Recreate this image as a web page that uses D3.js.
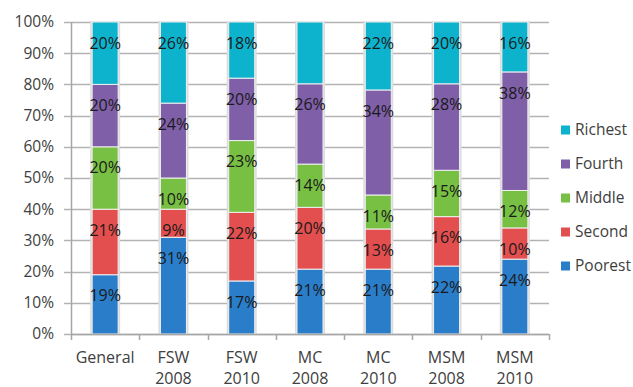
<!DOCTYPE html>
<html>
<head>
<meta charset="utf-8">
<script src="https://cdn.jsdelivr.net/npm/d3@7"></script>
<style>
  body { margin: 0; background: #fff; }
  text { font-family: "Open Sans", sans-serif; }
</style>
</head>
<body>
<svg width="633" height="387"></svg>
<script>
var categories = [
  ["General"],
  ["FSW", "2008"],
  ["FSW", "2010"],
  ["MC", "2008"],
  ["MC", "2010"],
  ["MSM", "2008"],
  ["MSM", "2010"]
];
var seriesNames = ["Poorest", "Second", "Middle", "Fourth", "Richest"];
var poorest = [19, 31, 17, 21, 21, 22, 24];
var second = [21, 9, 22, 20, 13, 16, 10];
var middle = [20, 10, 23, 14, 11, 15, 12];
var fourth = [20, 24, 20, 26, 34, 28, 38];
var richest = [20, 26, 18, 20, 22, 20, 16];
// MC 2008 richest has no label in the original
var hiddenLabels = [[3, "Richest"]];
var yTicks = [0, 0.1, 0.2, 0.3, 0.4, 0.5, 0.6, 0.7, 0.8, 0.9, 1];

var colors = {
  Poorest: "#2a7dc9",
  Second: "#e34f4f",
  Middle: "#78c044",
  Fourth: "#7f5fa8",
  Richest: "#0db3cd"
};

var rows = categories.map(function (c, i) {
  return {
    key: i,
    Poorest: poorest[i],
    Second: second[i],
    Middle: middle[i],
    Fourth: fourth[i],
    Richest: richest[i]
  };
});

var svg = d3.select("svg");
var plotLeft = 71, plotRight = 549, plotTop = 22, plotBottom = 334;

var x = d3.scaleBand().domain(d3.range(categories.length)).range([plotLeft, plotRight]).padding(0);
var y = d3.scaleLinear().domain([0, 1]).range([plotBottom, plotTop]);
var barW = 26;

var stack = d3.stack().keys(seriesNames).offset(d3.stackOffsetExpand);
var layers = stack(rows);

// gridlines with tick stubs
svg.append("g")
  .selectAll("line")
  .data(yTicks)
  .enter()
  .append("line")
  .attr("x1", plotLeft - 7)
  .attr("x2", plotRight)
  .attr("y1", function (d) { return Math.round(y(d)) + 0.5; })
  .attr("y2", function (d) { return Math.round(y(d)) + 0.5; })
  .attr("stroke", "#b3b3b3")
  .attr("stroke-width", 1.5);

svg.append("g")
  .selectAll("text")
  .data(yTicks)
  .enter()
  .append("text")
  .attr("x", 54)
  .attr("y", function (d) { return y(d); })
  .attr("dy", "0.35em")
  .attr("text-anchor", "end")
  .attr("font-size", 15.5)
  .attr("fill", "#404040")
  .text(d3.format(".0%"));

// axes lines
svg.append("line")
  .attr("x1", plotLeft + 0.5).attr("x2", plotLeft + 0.5)
  .attr("y1", plotTop).attr("y2", plotBottom + 0.5)
  .attr("stroke", "#a6a6a6").attr("stroke-width", 1.5);

var boundaries = d3.range(categories.length + 1).map(function (i) {
  return plotLeft + i * x.bandwidth();
});
svg.append("g")
  .selectAll("line")
  .data(boundaries)
  .enter()
  .append("line")
  .attr("x1", function (d) { return Math.round(d) + 0.5; })
  .attr("x2", function (d) { return Math.round(d) + 0.5; })
  .attr("y1", plotBottom)
  .attr("y2", plotBottom + 6)
  .attr("stroke", "#a6a6a6")
  .attr("stroke-width", 1.5);

// bar shadows
svg.append("g")
  .selectAll("rect")
  .data(rows)
  .enter()
  .append("rect")
  .attr("x", function (d) { return x(d.key) + x.bandwidth() / 2 - barW / 2 - 2; })
  .attr("y", plotTop - 1)
  .attr("width", barW + 4)
  .attr("height", plotBottom - plotTop + 1)
  .attr("fill", "#dcdcdc");

var g = svg.append("g");
layers.forEach(function (layer) {
  g.selectAll(null)
    .data(layer)
    .enter()
    .append("rect")
    .attr("x", function (d, i) { return x(i) + x.bandwidth() / 2 - barW / 2; })
    .attr("y", function (d) { return y(d[1]); })
    .attr("width", barW)
    .attr("height", function (d) { return y(d[0]) - y(d[1]); })
    .attr("fill", colors[layer.key])
    .attr("stroke", "#f0f0f0")
    .attr("stroke-width", 1);
});

svg.append("line")
  .attr("x1", plotLeft).attr("x2", plotRight)
  .attr("y1", plotBottom + 0.5).attr("y2", plotBottom + 0.5)
  .attr("stroke", "#a6a6a6").attr("stroke-width", 1.5);

// data labels
layers.forEach(function (layer) {
  g.selectAll(null)
    .data(layer.filter(function (d, i) {
      return !hiddenLabels.some(function (h) { return h[0] === i && h[1] === layer.key; });
    }))
    .enter()
    .append("text")
    .attr("x", function (d) { return x(d.data.key) + x.bandwidth() / 2; })
    .attr("y", function (d) { return y(d[1]) + 21; })
    .attr("dy", "0.35em")
    .attr("text-anchor", "middle")
    .attr("font-size", 16)
    .attr("fill", "#1a1a1a")
    .text(function (d) { return d.data[layer.key] + "%"; });
});

// x labels
var xl = svg.append("g")
  .selectAll("text")
  .data(categories)
  .enter()
  .append("text")
  .attr("x", function (d, i) { return x(i) + x.bandwidth() / 2; })
  .attr("y", 363)
  .attr("text-anchor", "middle")
  .attr("font-size", 16)
  .attr("fill", "#404040");
xl.selectAll("tspan")
  .data(function (d) { return d; })
  .enter()
  .append("tspan")
  .attr("x", function () { return this.parentNode.getAttribute("x"); })
  .attr("dy", function (d, i) { return i ? 21 : 0; })
  .text(function (d) { return d; });

// legend
var legendOrder = seriesNames.slice().reverse();
var lg = svg.append("g")
  .selectAll("g")
  .data(legendOrder)
  .enter()
  .append("g")
  .attr("transform", function (d, i) { return "translate(561," + (130 + i * 34) + ")"; });
lg.append("rect")
  .attr("x", 0).attr("y", -4.5)
  .attr("width", 9).attr("height", 9)
  .attr("fill", function (d) { return colors[d]; });
lg.append("text")
  .attr("x", 14)
  .attr("dy", "0.35em")
  .attr("font-size", 15.5)
  .attr("fill", "#404040")
  .text(function (d) { return d; });
</script>
</body>
</html>
